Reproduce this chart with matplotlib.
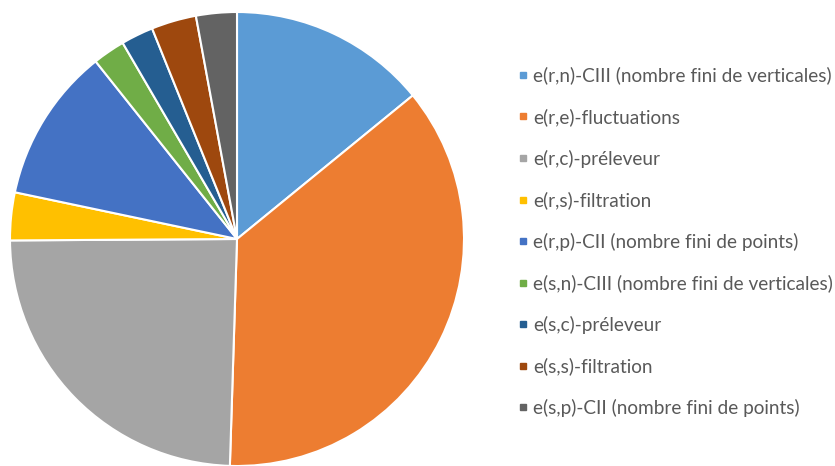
import matplotlib.pyplot as plt
from matplotlib.lines import Line2D

labels = [
    "e(r,n)-CIII (nombre fini de verticales)",
    "e(r,e)-fluctuations",
    "e(r,c)-préleveur",
    "e(r,s)-filtration",
    "e(r,p)-CII (nombre fini de points)",
    "e(s,n)-CIII (nombre fini de verticales)",
    "e(s,c)-préleveur",
    "e(s,s)-filtration",
    "e(s,p)-CII (nombre fini de points)",
]
values = [14.1, 36.4, 24.4, 3.4, 11.0, 2.3, 2.3, 3.2, 2.9]
colors = ["#5B9BD5", "#ED7D31", "#A5A5A5", "#FFC000", "#4472C4",
          "#70AD47", "#255E91", "#9E480E", "#636363"]

plt.rcParams['font.family'] = ['Lato', 'DejaVu Sans']

fig = plt.figure(figsize=(8.35, 4.66), dpi=100)
ax = fig.add_axes([10 / 835, 0.0, 454 / 835, 454 / 466])
ax.pie(values, colors=colors, startangle=90, counterclock=False,
       wedgeprops=dict(edgecolor="white", linewidth=1.5))
ax.set_xlim(-1, 1)
ax.set_ylim(-1, 1)
ax.set_aspect("equal")

handles = [Line2D([], [], marker="s", linestyle="", markersize=5,
                  markerfacecolor=c, markeredgecolor=c) for c in colors]
leg = fig.legend(handles, labels, loc="upper left",
                 bbox_to_anchor=(510 / 835, 1 - 59 / 466),
                 frameon=False, fontsize=13.7, labelspacing=1.24,
                 handlelength=0.6, handletextpad=0.2, borderaxespad=0)
for t in leg.get_texts():
    t.set_color("#595959")

fig.savefig("out.png", dpi=100)
